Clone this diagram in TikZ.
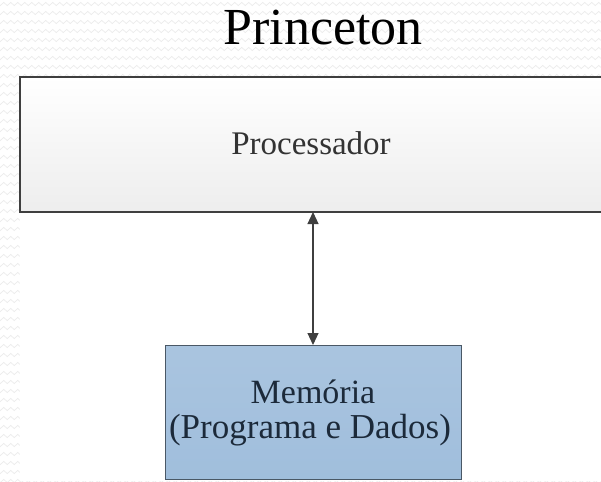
\documentclass[tikz,border=0pt]{standalone}
\usepackage{fontspec}
\setmainfont{Liberation Serif}
\usetikzlibrary{arrows.meta,decorations.pathmorphing}
\definecolor{patline}{HTML}{ECECEC}
\definecolor{boxedge}{HTML}{3F3F3F}
\definecolor{memfill}{HTML}{A0BEDC}
\definecolor{memedge}{HTML}{4A5866}
\definecolor{memtext}{HTML}{1C2A3A}
\definecolor{proctext}{HTML}{333333}
\tikzset{
  procbox/.style={draw=boxedge, line width=1.8pt, top color=white, bottom color=black!7},
  membox/.style={draw=memedge, line width=1.2pt, top color=memfill!90!white, bottom color=memfill},
  label/.style={anchor=base, inner sep=0pt},
  link/.style={draw=boxedge, line width=1.1pt, {Triangle[length=12pt,width=11pt]}-{Triangle[length=12pt,width=11pt]}},
}
\begin{document}
\begin{tikzpicture}[x=1pt,y=-1pt]
\useasboundingbox (0,0) rectangle (601,481);
% textured backdrop
\fill[white] (0,0) rectangle (601,481);
\begin{scope}
\clip (0,0) rectangle (601,481);
\foreach \r in {0,...,54}{
  \draw[patline, line width=0.7pt, decorate, decoration={zigzag, segment length=7pt, amplitude=1.6pt}]
    (-5,4+9*\r) -- (610,4+9*\r);
}
\end{scope}
\fill[white] (20,77) rectangle (601,481);
% title
\node[label, font=\fontsize{52}{54}\selectfont] (title) at (323,45) {Princeton};
% processor
\path[procbox] (20,77) rectangle (612,212);
\node[label, text=proctext, font=\fontsize{33}{36}\selectfont] (proc) at (311,154) {Processador};
\coordinate (procbot) at (313,212);
% memory
\node[membox, minimum width=296pt, minimum height=134pt, inner sep=0pt, anchor=north west] (mem) at (165,345) {};
\node[label, text=memtext, font=\fontsize{34}{36}\selectfont] (memA) at (313,403) {Memória};
\node[label, text=memtext, font=\fontsize{35}{36}\selectfont] (memB) at (310,438) {(Programa e Dados)};
% bus
\draw[link] (procbot) -- (mem.north -| procbot);
\end{tikzpicture}
\end{document}
